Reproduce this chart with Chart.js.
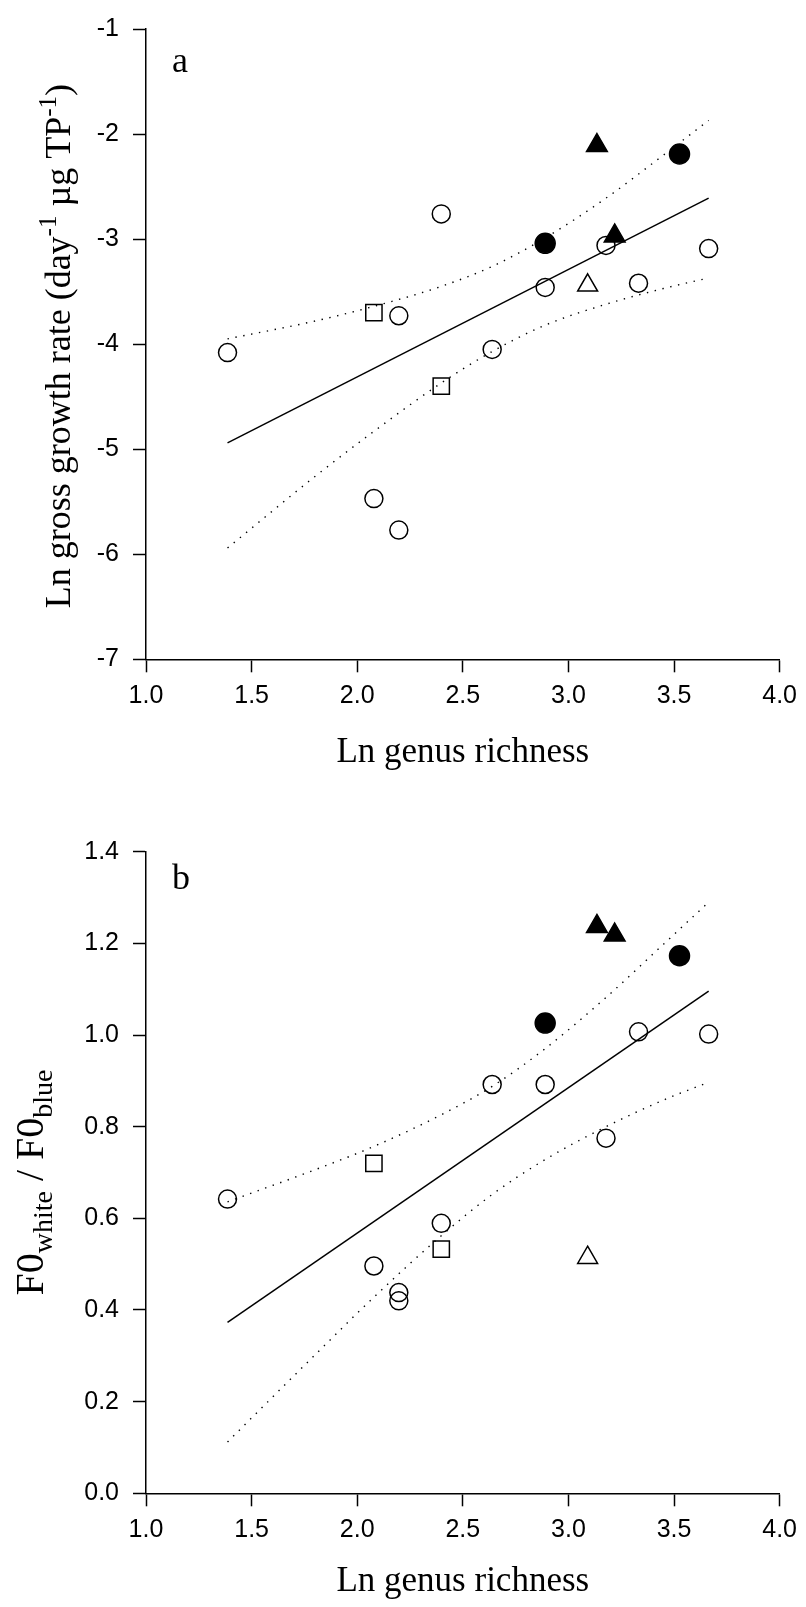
<!DOCTYPE html>
<html>
<head>
<meta charset="utf-8">
<script src="https://cdn.jsdelivr.net/npm/chart.js@4.4.1/dist/chart.umd.min.js"></script>
<style>
  html, body { margin: 0; padding: 0; background: #fff; }
  canvas { display: block; }
</style>
</head>
<body>
<canvas id="graficoA" width="806" height="775"></canvas>
<canvas id="graficoB" width="806" height="832"></canvas>
<script>
// ln genus richness per symbol group (same lakes in both panels)
const lnGenusOpenCircle = [1.386, 2.079, 2.197, 2.197, 2.398, 2.639, 2.890, 3.178, 3.332, 3.664];
const lnGenusOpenSquare = [2.079, 2.398];
const lnGenusOpenTriangle = [3.091];
const lnGenusFilledCircle = [2.890, 3.526];
const lnGenusFilledTriangle = [3.135, 3.219];

// panel a - ln gross growth rate
const growthOpenCircle = [-4.08, -5.47, -5.77, -3.73, -2.76, -4.05, -3.46, -3.06, -3.42, -3.09];
const growthOpenSquare = [-3.70, -4.40];
const growthOpenTriangle = [-3.44];
const growthFilledCircle = [-3.04, -2.19];
const growthFilledTriangle = [-2.11, -2.97];

// panel b - F0 white / F0 blue
const ratioOpenCircle = [0.642, 0.496, 0.438, 0.420, 0.589, 0.892, 0.892, 0.775, 1.007, 1.002];
const ratioOpenSquare = [0.720, 0.533];
const ratioOpenTriangle = [0.514];
const ratioFilledCircle = [1.026, 1.173];
const ratioFilledTriangle = [1.237, 1.218];

// regression lines and 95% confidence bands
const fitX = [1.386, 3.664];
const growthFit = [-4.94, -2.61];
const ratioFit = [0.373, 1.096];
const bandX = [1.386, 1.8, 2.079, 2.398, 2.639, 2.889, 3.178, 3.45, 3.664];
const growthUpper = [-3.95, -3.78, -3.64, -3.45, -3.26, -2.99, -2.61, -2.20, -1.87];
const growthLower = [-5.94, -5.26, -4.83, -4.37, -4.07, -3.82, -3.62, -3.47, -3.37];
const ratioUpper = [0.636, 0.706, 0.757, 0.826, 0.888, 0.970, 1.082, 1.198, 1.290];
const ratioLower = [0.112, 0.302, 0.428, 0.562, 0.652, 0.728, 0.800, 0.858, 0.897];

// eixos
const xTickValues = [1.0, 1.5, 2.0, 2.5, 3.0, 3.5, 4.0];
const xTickLabels = ['1.0', '1.5', '2.0', '2.5', '3.0', '3.5', '4.0'];
const growthTickValues = [-7, -6, -5, -4, -3, -2, -1];
const growthTickLabels = ['-7', '-6', '-5', '-4', '-3', '-2', '-1'];
const ratioTickValues = [0, 0.2, 0.4, 0.6, 0.8, 1.0, 1.2, 1.4];
const ratioTickLabels = ['0.0', '0.2', '0.4', '0.6', '0.8', '1.0', '1.2', '1.4'];

const SERIF = '"Liberation Serif", "Times New Roman", serif';
const SANS = '"Liberation Sans", Arial, sans-serif';

function pontos(xs, ys) {
  return xs.map((x, i) => ({ x: x, y: ys[i] }));
}

// simbolos
function simbolo(style, radius, filled) {
  return {
    pointStyle: style,
    pointRadius: radius,
    pointBorderWidth: 1.5,
    pointBorderColor: '#000',
    pointBackgroundColor: filled ? '#000' : 'rgba(0,0,0,0)',
    showLine: false
  };
}

function linha(xs, ys, dotted) {
  return {
    data: pontos(xs, ys),
    showLine: true,
    pointRadius: 0,
    borderColor: '#000',
    borderWidth: dotted ? 1.4 : 1.5,
    borderDash: dotted ? [1.4, 6.6] : [],
    cubicInterpolationMode: dotted ? 'monotone' : 'default',
    fill: false
  };
}

// y-axis title with super/subscripts + panel letter
// (config kept in a closure so Chart.js doesn't proxy it)
function tituloPlugin(t) {
  return {
    id: 'tituloY',
    afterDraw(chart) {
      const ctx = chart.ctx;
      const area = chart.chartArea;
      ctx.save();
      ctx.fillStyle = '#000';
      ctx.textBaseline = 'alphabetic';
      ctx.textAlign = 'left';
      ctx.font = t.letterSize + 'px ' + SERIF;
      ctx.fillText(t.letter, area.left + t.letterDx, area.top + t.letterDy);

      ctx.translate(t.baseX, (area.top + area.bottom) / 2 + t.dy);
      ctx.rotate(-Math.PI / 2);
      let total = 0;
      t.runs.forEach(r => {
        ctx.font = r.size + 'px ' + SERIF;
        total += ctx.measureText(r.text).width;
      });
      let x = -total / 2;
      t.runs.forEach(r => {
        ctx.font = r.size + 'px ' + SERIF;
        ctx.fillText(r.text, x, r.shift);
        x += ctx.measureText(r.text).width;
      });
      ctx.restore();
    }
  };
}

function criarGrafico(id, cfg) {
  const ctx = document.getElementById(id).getContext('2d');
  return new Chart(ctx, {
    type: 'scatter',
    data: {
      datasets: [
        Object.assign({ data: pontos(lnGenusFilledTriangle, cfg.filledTriangle) }, simbolo('triangle', 12, true)),
        Object.assign({ data: pontos(lnGenusFilledCircle, cfg.filledCircle) }, simbolo('circle', 10, true)),
        Object.assign({ data: pontos(lnGenusOpenTriangle, cfg.openTriangle) }, simbolo('triangle', 11.5, false)),
        Object.assign({ data: pontos(lnGenusOpenSquare, cfg.openSquare) }, simbolo('rect', 11.5, false)),
        Object.assign({ data: pontos(lnGenusOpenCircle, cfg.openCircle) }, simbolo('circle', 9, false)),
        linha(fitX, cfg.fit, false),
        linha(bandX, cfg.upper, true),
        linha(bandX, cfg.lower, true)
      ]
    },
    options: {
      responsive: false,
      animation: false,
      events: [],
      layout: { padding: { top: cfg.padTop, right: 20.3, left: 0, bottom: 0 } },
      plugins: {
        legend: { display: false },
        tooltip: { enabled: false }
      },
      scales: {
        x: {
          type: 'linear',
          position: 'bottom',
          min: 1,
          max: 4,
          afterBuildTicks: s => { s.ticks = xTickValues.map(v => ({ value: v })); },
          afterFit: s => { s.height = cfg.xHeight; },
          ticks: {
            callback: (v, i) => xTickLabels[i],
            font: { family: SANS, size: 25 },
            color: '#000',
            padding: 9,
            maxRotation: 0,
            autoSkip: false
          },
          grid: { drawOnChartArea: false, drawTicks: true, tickLength: 13, tickWidth: 1.5, tickColor: '#000' },
          border: { display: true, color: '#000', width: 1.5 },
          title: {
            display: true,
            text: 'Ln genus richness',
            font: { family: SERIF, size: 35 },
            color: '#000',
            padding: { top: 0, bottom: cfg.titlePad }
          }
        },
        y: {
          type: 'linear',
          min: cfg.yMin,
          max: cfg.yMax,
          afterBuildTicks: s => { s.ticks = cfg.yTicks.map(v => ({ value: v })); },
          afterFit: s => { s.width = 146; },
          ticks: {
            callback: (v, i) => cfg.yLabels[i],
            font: { family: SANS, size: 25 },
            color: '#000',
            padding: 14,
            autoSkip: false
          },
          grid: { drawOnChartArea: false, drawTicks: true, tickLength: 13, tickWidth: 1.5, tickColor: '#000' },
          border: { display: true, color: '#000', width: 1.5 }
        }
      }
    },
    plugins: [tituloPlugin(cfg.titulo)]
  });
}

// === PAINEL A ===
criarGrafico('graficoA', {
  openCircle: growthOpenCircle,
  openSquare: growthOpenSquare,
  openTriangle: growthOpenTriangle,
  filledCircle: growthFilledCircle,
  filledTriangle: growthFilledTriangle,
  fit: growthFit,
  upper: growthUpper,
  lower: growthLower,
  yMin: -7,
  yMax: -1,
  yTicks: growthTickValues,
  yLabels: growthTickLabels,
  padTop: 19.3,
  xHeight: 115.7,
  titlePad: 1,
  titulo: {
    letter: 'a', letterSize: 36, letterDx: 26, letterDy: 43,
    baseX: 70, dy: 2,
    runs: [
      { text: 'Ln gross growth rate (day', size: 36, shift: 0 },
      { text: '-1', size: 25, shift: -14 },
      { text: ' \u00b5g TP', size: 36, shift: 0 },
      { text: '-1', size: 25, shift: -14 },
      { text: ')', size: 36, shift: 0 }
    ]
  }
});

// === PAINEL B ===
criarGrafico('graficoB', {
  openCircle: ratioOpenCircle,
  openSquare: ratioOpenSquare,
  openTriangle: ratioOpenTriangle,
  filledCircle: ratioFilledCircle,
  filledTriangle: ratioFilledTriangle,
  fit: ratioFit,
  upper: ratioUpper,
  lower: ratioLower,
  yMin: 0,
  yMax: 1.4,
  yTicks: ratioTickValues,
  yLabels: ratioTickLabels,
  padTop: 76.7,
  xHeight: 113.7,
  titlePad: 4,
  titulo: {
    letter: 'b', letterSize: 36, letterDx: 26, letterDy: 37,
    baseX: 43, dy: 10,
    runs: [
      { text: 'F0', size: 40, shift: 0 },
      { text: 'white', size: 28, shift: 9 },
      { text: ' / F0', size: 40, shift: 0 },
      { text: 'blue', size: 28, shift: 9 }
    ]
  }
});
</script>
</body>
</html>
